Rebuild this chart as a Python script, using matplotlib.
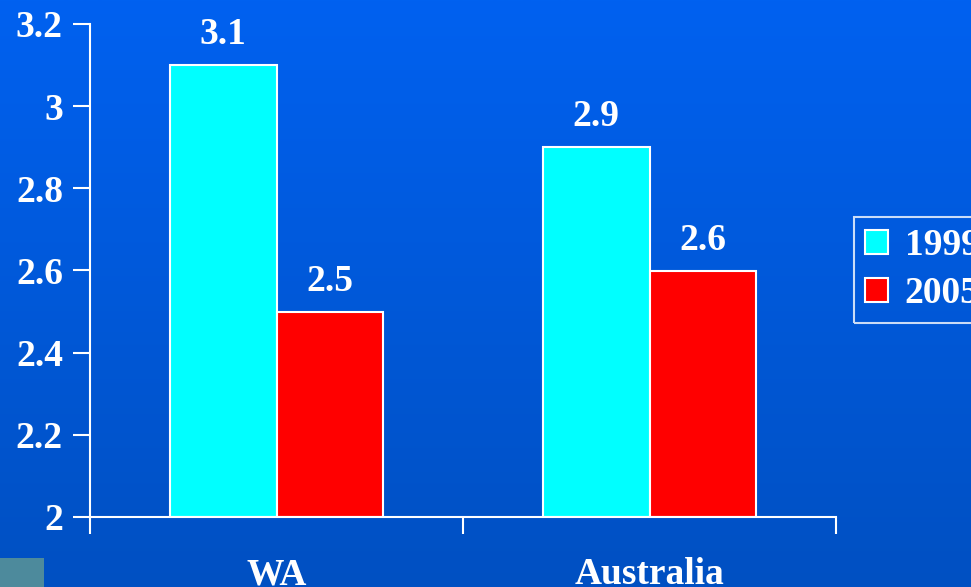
import numpy as np
import matplotlib
matplotlib.use("Agg")
import matplotlib.pyplot as plt
from matplotlib.colors import LinearSegmentedColormap
from matplotlib.patches import Rectangle

# data
categories = ["WA", "Australia"]
years = ["1999", "2005"]
values_1999 = [3.1, 2.9]
values_2005 = [2.5, 2.6]
yticks = [2, 2.2, 2.4, 2.6, 2.8, 3, 3.2]
ytick_labels = ["2", "2.2", "2.4", "2.6", "2.8", "3", "3.2"]

plt.rcParams['font.family'] = ['Liberation Serif', 'DejaVu Serif']
plt.rcParams['font.weight'] = 'bold'
FS = 27

fig = plt.figure(figsize=(9.71, 5.87), dpi=100)

# gradient background
bg = fig.add_axes([0, 0, 1, 1], zorder=-10)
cmap = LinearSegmentedColormap.from_list("bg", ["#0050c2", "#0061f0"])
grad = np.linspace(0, 1, 256).reshape(-1, 1)
bg.imshow(grad, aspect='auto', cmap=cmap, origin='lower', extent=[0, 1, 0, 1])
bg.axis('off')
fig.patches.append(Rectangle((0, 0), 44 / 971, 29 / 587, transform=fig.transFigure,
                             facecolor="#4d8a9c", edgecolor='none', zorder=-5))

ax = fig.add_axes([90 / 971, (587 - 517) / 587, (836 - 90) / 971, (517 - 24) / 587])
ax.set_facecolor('none')

x = np.arange(len(categories))
w = 0.286
b1 = ax.bar(x - w / 2, np.array(values_1999) - 2, w, bottom=2, color="#00ffff",
            edgecolor='white', linewidth=1.5, label=years[0])
b2 = ax.bar(x + w / 2, np.array(values_2005) - 2, w, bottom=2, color="#ff0000",
            edgecolor='white', linewidth=1.5, label=years[1])

for bars, vals in [(b1, values_1999), (b2, values_2005)]:
    for r, v in zip(bars, vals):
        ax.annotate(f"{v}", (r.get_x() + r.get_width() / 2, v), xytext=(0, 15),
                    textcoords='offset points', ha='center', va='baseline',
                    color='white', fontsize=FS, fontweight='bold')

ax.set_xlim(-0.5, 1.5)
ax.set_ylim(2, 3.2)
ax.set_yticks(yticks)
ax.set_yticklabels(ytick_labels)
ax.set_xticks([-0.5, 0.5, 1.5])
ax.set_xticklabels([])
ax.set_xticks(x, minor=True)
ax.set_xticklabels(categories, minor=True)
ax.tick_params(axis='x', which='minor', length=0, pad=29, labelsize=FS, colors='white')
ax.tick_params(axis='x', which='major', length=12, width=1.5, color='white')
ax.tick_params(axis='y', length=12, width=1.5, color='white', labelcolor='white',
               labelsize=FS, pad=7.5)

for s in ['top', 'right']:
    ax.spines[s].set_visible(False)
for s in ['left', 'bottom']:
    ax.spines[s].set_color('white')
    ax.spines[s].set_linewidth(1.5)

leg = fig.legend(loc='upper left', bbox_to_anchor=(854 / 971, 1 - 217 / 587),
                 borderaxespad=0, fontsize=FS, frameon=True, fancybox=False,
                 handlelength=0.6, handleheight=0.6, handletextpad=0.45,
                 labelspacing=0.35, borderpad=0.3, labelcolor='white')
leg.get_frame().set_facecolor('none')
leg.get_frame().set_edgecolor('white')
leg.get_frame().set_linewidth(1.5)

fig.savefig("out.png", dpi=100)
